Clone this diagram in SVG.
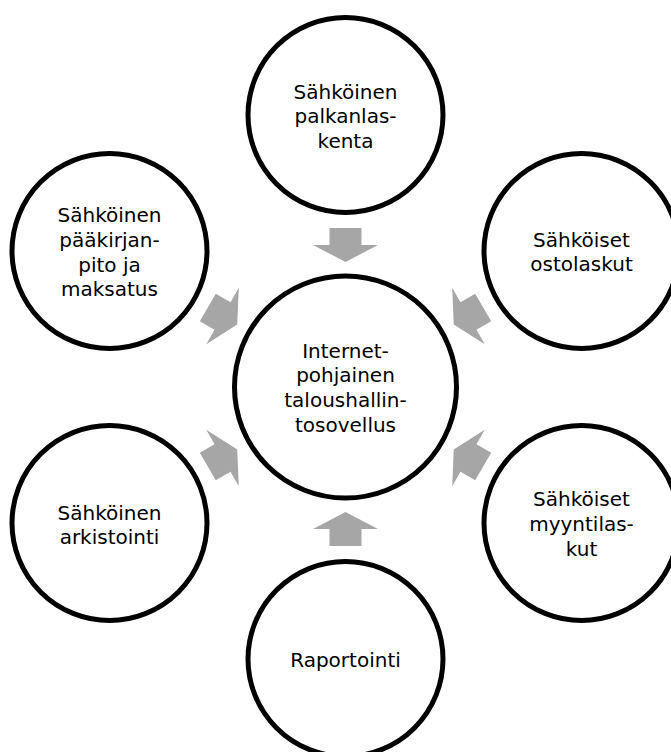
<svg xmlns="http://www.w3.org/2000/svg" width="671" height="752" viewBox="0 0 671 752">
  <defs>
    <!-- Block arrow pointing at the hub, drawn above the hub centre (origin) -->
    <polygon id="inArrow" points="-16,-159 16,-159 16,-142 32.5,-142 0,-125 -32.5,-142 -16,-142"/>
    <style>
      .node { fill: #ffffff; stroke: #000000; stroke-width: 5; }
      .label { font-family: "DejaVu Sans", "Liberation Sans", sans-serif; font-size: 20px; fill: #000000; text-anchor: middle; }
      .arrow { fill: #a6a6a6; stroke: none; }
    </style>
  </defs>
  <rect width="671" height="752" fill="#ffffff"/>

  <!-- Connectors: six arrows around the hub at (345.5, 387) -->
  <g id="connectors" class="arrow" transform="translate(345.5 387)">
    <use href="#inArrow"/>
    <use href="#inArrow" transform="rotate(60)"/>
    <use href="#inArrow" transform="rotate(120)"/>
    <use href="#inArrow" transform="rotate(180)"/>
    <use href="#inArrow" transform="rotate(240)"/>
    <use href="#inArrow" transform="rotate(300)"/>
  </g>

  <g id="hub">
    <circle class="node" cx="345.5" cy="387" r="111"/>
    <text class="label" x="345.5" y="357.5">Internet-<tspan x="345.5" dy="24.8">pohjainen</tspan><tspan x="345.5" dy="24.8">taloushallin-</tspan><tspan x="345.5" dy="24.8">tosovellus</tspan></text>
  </g>

  <g id="palkanlaskenta">
    <circle class="node" cx="345.5" cy="115" r="97.5"/>
    <text class="label" x="345.5" y="98.5">Sähköinen<tspan x="345.5" dy="24.8">palkanlas-</tspan><tspan x="345.5" dy="24.8">kenta</tspan></text>
  </g>

  <g id="ostolaskut">
    <circle class="node" cx="581.5" cy="251" r="97.5"/>
    <text class="label" x="581.5" y="246.5">Sähköiset<tspan x="581.5" dy="24.8">ostolaskut</tspan></text>
  </g>

  <g id="myyntilaskut">
    <circle class="node" cx="581.5" cy="523" r="97.5"/>
    <text class="label" x="581.5" y="506">Sähköiset<tspan x="581.5" dy="24.8">myyntilas-</tspan><tspan x="581.5" dy="24.8">kut</tspan></text>
  </g>

  <g id="raportointi">
    <circle class="node" cx="345.5" cy="659" r="97.5"/>
    <text class="label" x="345.5" y="667">Raportointi</text>
  </g>

  <g id="arkistointi">
    <circle class="node" cx="109.5" cy="523" r="97.5"/>
    <text class="label" x="109.5" y="519.5">Sähköinen<tspan x="109.5" dy="24.8">arkistointi</tspan></text>
  </g>

  <g id="paakirjanpito">
    <circle class="node" cx="109.5" cy="251" r="97.5"/>
    <text class="label" x="109.5" y="222">Sähköinen<tspan x="109.5" dy="24.8">pääkirjan-</tspan><tspan x="109.5" dy="24.8">pito ja</tspan><tspan x="109.5" dy="24.8">maksatus</tspan></text>
  </g>
</svg>
